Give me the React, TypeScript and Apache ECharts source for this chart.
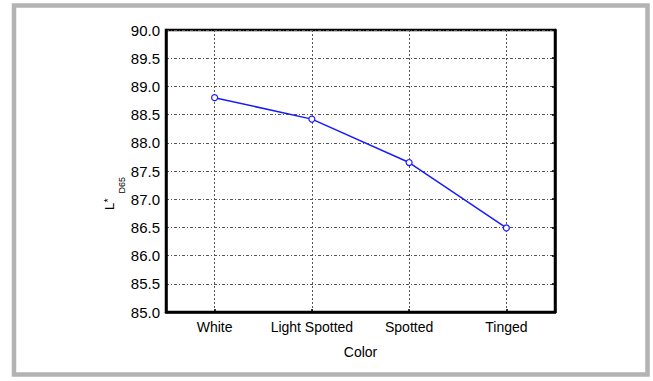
import React, { useEffect, useRef } from "react";
import * as echarts from "echarts";

const categories = ["White", "Light Spotted", "Spotted", "Tinged"];
const lValues = [88.8, 88.42, 87.65, 86.49];
const yMin = 85;
const yMax = 90;
const yStep = 0.5;
const xAxisTitle = "Color";

export default function App() {
  const ref = useRef<HTMLDivElement>(null);
  useEffect(() => {
    document.body.style.margin = "0";
    const chart = echarts.init(ref.current!, null, { renderer: "svg" });
    const font = "Liberation Sans, Arial, sans-serif";
    const grid = { left: 166, top: 30, right: 98, bottom: 69 };
    const hLine = { color: "#555", width: 1, type: [3, 2, 1, 2] as any };
    const vLine = { color: "#555", width: 1, type: [2, 2] as any };
    chart.setOption({
      animation: false,
      backgroundColor: "#fff",
      grid: { ...grid, show: true, borderColor: "#000", borderWidth: 2.5, backgroundColor: "transparent" },
      xAxis: {
        type: "category",
        data: categories,
        boundaryGap: true,
        name: xAxisTitle,
        nameLocation: "middle",
        nameGap: 33,
        nameTextStyle: { color: "#000", fontSize: 14, fontFamily: font },
        axisLine: { show: true, lineStyle: { color: "#000", width: 2.5 } },
        axisTick: { show: true, inside: true, alignWithLabel: true, interval: 0, length: 3, lineStyle: { color: "#000", width: 1.5 } },
        axisLabel: { color: "#000", fontSize: 14, fontFamily: font, margin: 8, interval: 0 },
        splitLine: { show: true, alignWithLabel: true, interval: 0, lineStyle: vLine } as any,
      },
      yAxis: [
        {
          type: "value",
          min: yMin,
          max: yMax,
          interval: yStep,
          axisLine: { show: true, lineStyle: { color: "#000", width: 2.5 } },
          axisTick: { show: false },
          axisLabel: {
            color: "#000",
            fontSize: 15,
            fontFamily: font,
            margin: 6,
            formatter: (v: number) => v.toFixed(1),
          },
          splitLine: { show: true, lineStyle: hLine },
        },
        {
          type: "value",
          position: "right",
          min: yMin,
          max: yMax,
          interval: yStep,
          axisLine: { show: true, lineStyle: { color: "#000", width: 2.5 } },
          axisTick: { show: true, inside: true, length: 3, lineStyle: { color: "#000", width: 1.5 } },
          axisLabel: { show: false },
          splitLine: { show: false },
        },
      ],
      series: [
        {
          type: "line",
          data: lValues,
          yAxisIndex: 0,
          symbol: "circle",
          symbolSize: 6,
          showSymbol: true,
          lineStyle: { color: "#1a1aff", width: 1.5 },
          itemStyle: { color: "#fff", borderColor: "#1a1aff", borderWidth: 1.2 },
        },
      ],
      graphic: [
        {
          type: "rect",
          shape: { x: 14, y: 5.5, width: 633.5, height: 369 },
          style: { fill: "none", stroke: "#b3b3b3", lineWidth: 4.5 },
          silent: true,
        },
        {
          type: "text",
          x: 109.5,
          y: 210,
          rotation: Math.PI / 2,
          style: { text: "L", fill: "#000", fontSize: 13, fontFamily: font, align: "left", verticalAlign: "middle" },
        },
        {
          type: "text",
          x: 107.5,
          y: 202.5,
          rotation: Math.PI / 2,
          style: { text: "*", fill: "#000", fontSize: 11, fontFamily: font, align: "left", verticalAlign: "middle" },
        },
        {
          type: "text",
          x: 122,
          y: 193.5,
          rotation: Math.PI / 2,
          style: { text: "D65", fill: "#000", fontSize: 9, fontFamily: font, align: "left", verticalAlign: "middle" },
        },
      ],
    });
    return () => chart.dispose();
  }, []);
  return (
    <div
      ref={ref}
      style={{ position: "fixed", left: 0, top: 0, width: 653, height: 381, background: "#fff" }}
    />
  );
}
